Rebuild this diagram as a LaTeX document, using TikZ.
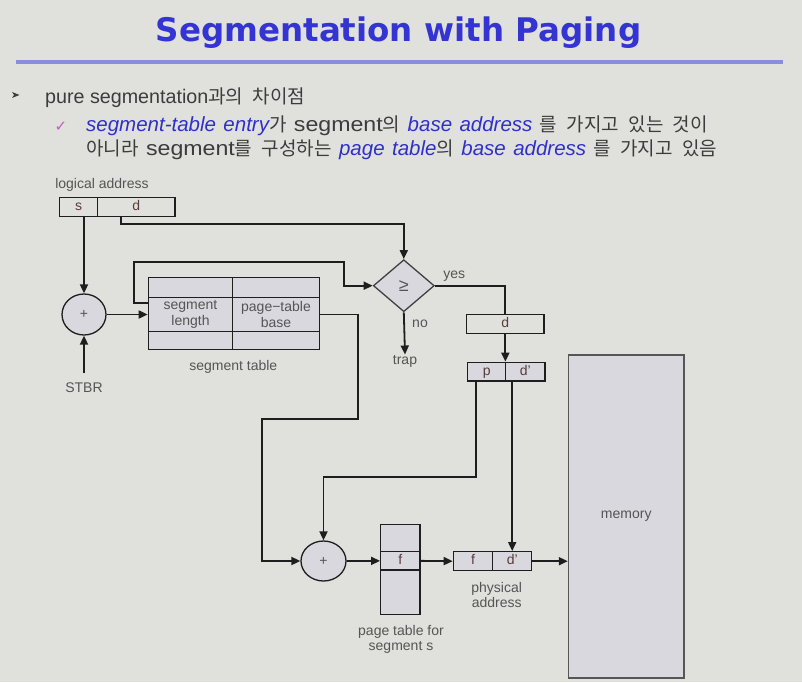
\documentclass[tikz,border=0pt]{standalone}
\usepackage{fontspec}
\setmainfont{Liberation Sans}
\newfontfamily\bodyfont[WordSpace=1.3]{Liberation Sans}
\newfontfamily\widefont[FakeStretch=1.13]{Liberation Sans}
\newfontfamily\krfont[WordSpace=2.2]{Noto Sans CJK KR}
\newfontfamily\dejavu{DejaVu Sans}
\usepackage{tikz}
\usetikzlibrary{shapes.geometric,arrows.meta}

\definecolor{slidebg}{RGB}{224,224,220}
\definecolor{titleblue}{RGB}{52,52,210}
\definecolor{rulelav}{RGB}{140,140,222}
\definecolor{textgray}{RGB}{60,60,60}
\definecolor{emblue}{RGB}{48,48,200}
\definecolor{checkpink}{RGB}{200,90,200}
\definecolor{cellgray}{RGB}{216,216,222}
\definecolor{labelgray}{RGB}{85,85,85}
\definecolor{fieldtext}{RGB}{90,60,60}
\definecolor{linecol}{RGB}{30,30,30}

\newcommand{\hangul}[1]{{\krfont\fontsize{19}{22}\selectfont #1}}
\newcommand{\emtext}[1]{{\color{emblue}\itshape #1}}
\newcommand{\plainword}[1]{{\widefont #1}}

\begin{document}
\begin{tikzpicture}[x=1pt, y=-1pt,
  field/.style={draw=linecol, line width=1.3pt, minimum height=19pt, inner sep=0pt, text height=9pt, text depth=2pt, text=fieldtext, font=\fontsize{14}{16}\selectfont},
  cell/.style={field, fill=cellgray},
  lbl/.style={text=labelgray, font=\fontsize{14}{15.5}\selectfont, inner sep=1pt, align=center},
  adder/.style={draw=linecol, ellipse, fill=cellgray, line width=1.3pt, minimum width=44pt, minimum height=41pt, inner sep=0pt, text=labelgray, font=\fontsize{14}{16}\selectfont},
  link/.style={line width=1.8pt, draw=linecol},
  arr/.style={link, -{Triangle[length=9pt,width=8pt]}},
  bullet/.style={anchor=base west, inner sep=0pt, text=textgray, font=\bodyfont\fontsize{20.5}{24}\selectfont}]

  % Slide
  \fill[slidebg] (0,0) rectangle (802,682);
  \useasboundingbox (0,0) rectangle (802,682);

  % Title
  \node[anchor=base, text=titleblue, font=\dejavu\bfseries\fontsize{32.5}{38}\selectfont] (title) at (398.5,41.7) {Segmentation with Paging};
  \draw[rulelav, line width=3.5pt] (16,62) -- (783,62);

  % Bullets
  \fill[textgray] (12,92) -- (19.5,95) -- (12,98) -- (14,95) -- cycle;
  \node[anchor=base, inner sep=0pt, text=checkpink, font=\dejavu\fontsize{15}{18}\selectfont] (check) at (61,131) {✓};
  \node[bullet, font=\fontsize{19.7}{24}\selectfont] (point1) at (45,103)
    {pure segmentation\hangul{과의 차이점}};
  \node[bullet] (point2) at (86,131.7)
    {\emtext{segment-table entry}\hangul{가} \plainword{segment}\hangul{의} \emtext{base address} \hangul{를 가지고 있는 것이}};
  \node[bullet] (point3) at (86,155)
    {\hangul{아니라} \plainword{segment}\hangul{를 구성하는} \emtext{page table}\hangul{의} \emtext{base address} \hangul{를 가지고 있음}};

  % Logical address
  \node[lbl] (laddr) at (102,185) {logical address};
  \node[field, minimum width=38.4pt] (sfield) at (78.5,207.2) {s};
  \node[field, minimum width=77.3pt] (dfield) at (136.35,207.2) {d};

  % Adder with STBR
  \node[adder] (add1) at (84,314.5) {+};
  \node[lbl] (stbr) at (84,388) {STBR};

  % Segment table
  \node[cell, minimum width=84.4pt, minimum height=20pt] (seg0) at (190.5,287.3) {};
  \node[cell, minimum width=86.6pt, minimum height=20pt] (base0) at (276,287.3) {};
  \node[cell, minimum width=84.4pt, minimum height=34.4pt, lbl, text height=, text depth=] (seglen) at (190.5,314.5) {segment\\length};
  \node[cell, minimum width=86.6pt, minimum height=34.4pt, lbl, text height=, text depth=] (ptbase) at (276,314.5) {page−table\\base};
  \node[cell, minimum width=84.4pt, minimum height=17.6pt] (seg2) at (190.5,340.5) {};
  \node[cell, minimum width=86.6pt, minimum height=17.6pt] (base2) at (276,340.5) {};
  \node[lbl] (segcap) at (233.3,367) {segment table};

  % Limit check
  \node[diamond, draw=linecol!85, fill=cellgray, line width=1.3pt, minimum width=61pt, minimum height=52pt, inner sep=0pt, text=labelgray, font=\fontsize{18}{20}\selectfont] (cmp) at (403.8,285.7) {≥};
  \node[lbl] (yes) at (454.3,276) {yes};
  \node[lbl] (no) at (420,323.3) {no};
  \node[lbl] (trap) at (405,361.7) {trap};

  % Offset split into p and d'
  \node[field, minimum width=77.3pt] (dreg) at (505.35,323.8) {d};
  \node[cell, minimum width=38pt, minimum height=18.7pt] (pfield) at (486.7,371.65) {p};
  \node[cell, minimum width=39.3pt, minimum height=18.7pt] (dpfield) at (525.35,371.65) {d'};

  % Page table for segment s
  \node[adder, minimum width=45pt, minimum height=40pt] (add2) at (323.5,561) {+};
  \node[cell, minimum width=39.3pt, minimum height=27.4pt] (pttop) at (400.35,538) {};
  \node[cell, minimum width=39.3pt, minimum height=18.3pt] (fentry) at (400.35,560.85) {f};
  \node[cell, minimum width=39.3pt, minimum height=44.3pt] (ptbot) at (400.35,592.15) {};
  \node[lbl] (ptcap) at (401,639.5) {page table for\\segment s};

  % Physical address and memory
  \node[cell] (ffield) at (473,561.2) [minimum width=39.4pt] {f};
  \node[cell] (dpout) at (512.2,561.2) [minimum width=39pt] {d'};
  \node[lbl] (physcap) at (496.7,595) {physical\\address};
  \node[draw=linecol!75, fill=cellgray, line width=1.5pt, minimum width=115.5pt, minimum height=323pt, text=labelgray, font=\fontsize{14}{16}\selectfont] (mem) at (626.25,516.5) {memory};

  % Arrows
  \draw[arr] (sfield.south -| add1.north) -- (add1.north);
  \draw[arr] ([yshift=9pt]stbr.north) -- (add1.south);
  \draw[arr] (add1.east) -- (seglen.west);
  \draw[arr] ([yshift=-6pt]seglen.north west) -- ++(-14,0) |- (344,261.7) |- (cmp.west);
  \draw[arr] ([xshift=-15.65pt]dfield.south) -- ++(0,6.6) -| (cmp.north);
  \draw[link] (cmp.east) -| (dreg.north);
  \draw[arr] (cmp.south) -- (trap.north);
  \draw[arr] (dreg.south) -- (dreg.south |- pfield.north);
  \draw[arr] ([xshift=-11pt]pfield.south) -- ++(0,95) -| (add2.north);
  \draw[arr] (dpfield.south -| dpout.north) -- (dpout.north);
  \draw[arr] (ptbase.east) -- ++(38,0) |- (261.7,419) |- (add2.west);
  \draw[arr] (add2.east) -- (fentry.west);
  \draw[arr] (fentry.east) -- (ffield.west);
  \draw[arr] (dpout.east) -- (dpout.east -| mem.west);
\end{tikzpicture}
\end{document}
